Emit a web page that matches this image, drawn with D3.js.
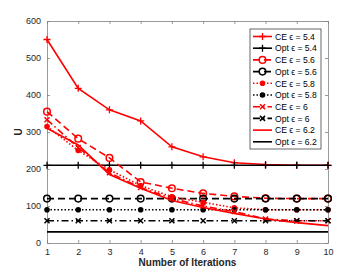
<!DOCTYPE html>
<html>
<head>
<meta charset="utf-8">
<script src="https://cdn.jsdelivr.net/npm/d3@7"></script>
<style>
  body { margin: 0; background: #fff; }
  svg { display: block; font-family: "Liberation Sans", Arial, sans-serif; }
</style>
</head>
<body>
<div id="chart"></div>
<script>
const iterations = [1, 2, 3, 4, 5, 6, 7, 8, 9, 10];
const epsilons = [5.4, 5.6, 5.8, 6, 6.2];
const ce54 = [550, 418, 360, 330, 260, 233, 217, 212, 210, 210];
const ce56 = [355, 282, 230, 165, 148, 134, 126, 121, 120, 120];
const ce58 = [315, 250, 198, 155, 125, 110, 95, 90, 90, 90];
const ce6  = [333, 258, 190, 150, 120, 100, 85, 65, 60, 60];
const ce62 = [310, 265, 185, 148, 115, 96, 80, 65, 55, 47];
const opt = [210, 120, 90, 60, 30];
const yTicks = [0, 100, 200, 300, 400, 500, 600];

const W = 363, H = 273;
const margin = { top: 21, right: 35, bottom: 30, left: 47 };
const width = 328 - margin.left;
const height = 243 - margin.top;

const svg = d3.select("#chart").append("svg")
    .attr("width", W)
    .attr("height", H);

const g = svg.append("g")
    .attr("transform", `translate(${margin.left},${margin.top})`);

const x = d3.scaleLinear().domain([1, 10]).range([0, width]);
const y = d3.scaleLinear().domain([0, 600]).range([height, 0]);

const axisColor = "#262626";

// axes (Matlab style: ticks inside, box on)
const xAxis = g.append("g").attr("transform", `translate(0,${height})`)
    .call(d3.axisBottom(x).tickValues(iterations).tickSizeInner(-3).tickSizeOuter(0).tickPadding(6));
const xTop = g.append("g")
    .call(d3.axisTop(x).tickValues(iterations).tickSizeInner(-3).tickSizeOuter(0).tickFormat(""));
const yAxis = g.append("g")
    .call(d3.axisLeft(y).tickValues(yTicks).tickSizeInner(-3).tickSizeOuter(0).tickPadding(6));
const yRight = g.append("g").attr("transform", `translate(${width},0)`)
    .call(d3.axisRight(y).tickValues(yTicks).tickSizeInner(-3).tickSizeOuter(0).tickFormat(""));

[xAxis, xTop, yAxis, yRight].forEach(a => {
    a.selectAll("path, line").attr("stroke", "#808080").attr("stroke-width", 0.8);
    a.selectAll("text").attr("fill", axisColor).style("font-size", "9px");
});

svg.append("text")
    .attr("x", margin.left + width / 2)
    .attr("y", 266)
    .attr("text-anchor", "middle")
    .style("font-size", "10px")
    .style("font-weight", "bold")
    .attr("fill", axisColor)
    .text("Number of Iterations");

svg.append("text")
    .attr("transform", `translate(22,${margin.top + height / 2}) rotate(-90)`)
    .attr("text-anchor", "middle")
    .style("font-size", "10px")
    .style("font-weight", "bold")
    .attr("fill", axisColor)
    .text("U");

// series definitions
const styles = {
    5.4: { dash: null, marker: "plus" },
    5.6: { dash: "7,4", marker: "circle" },
    5.8: { dash: "1.5,2", marker: "dot" },
    6: { dash: "7,3,1.5,3", marker: "x" },
    6.2: { dash: null, marker: null }
};
const ceValues = [ce54, ce56, ce58, ce6, ce62];

const series = [];
epsilons.forEach((e, i) => {
    series.push({ name: `CE ϵ = ${e}`, color: "#ff0000", eps: e, values: ceValues[i] });
    series.push({ name: `Opt ϵ = ${e}`, color: "#000000", eps: e, values: iterations.map(() => opt[i]) });
});

const line = d3.line()
    .x((d, i) => x(iterations[i]))
    .y(d => y(d));

function drawMarker(sel, type, color, cx, cy) {
    if (type === "plus") {
        sel.append("path")
            .attr("d", `M${cx - 3.5},${cy}H${cx + 3.5}M${cx},${cy - 3.5}V${cy + 3.5}`)
            .attr("stroke", color).attr("stroke-width", 1.3).attr("fill", "none");
    } else if (type === "circle") {
        sel.append("circle").attr("cx", cx).attr("cy", cy).attr("r", 3.3)
            .attr("fill", "none").attr("stroke", color).attr("stroke-width", 1.5);
    } else if (type === "dot") {
        sel.append("circle").attr("cx", cx).attr("cy", cy).attr("r", 2.8)
            .attr("fill", color);
    } else if (type === "x") {
        sel.append("path")
            .attr("d", `M${cx - 2.5},${cy - 2.5}L${cx + 2.5},${cy + 2.5}M${cx - 2.5},${cy + 2.5}L${cx + 2.5},${cy - 2.5}`)
            .attr("stroke", color).attr("stroke-width", 1.5).attr("fill", "none");
    }
}

const plot = g.append("g");
// draw black (opt) first, then red over? Keep legend order: draw in order
series.forEach(s => {
    const st = styles[s.eps];
    plot.append("path")
        .datum(s.values)
        .attr("d", line)
        .attr("fill", "none")
        .attr("stroke", s.color)
        .attr("stroke-width", 1.6)
        .attr("stroke-dasharray", st.dash);
    if (st.marker) {
        s.values.forEach((v, i) => drawMarker(plot, st.marker, s.color, x(iterations[i]), y(v)));
    }
});

// legend
const lg = svg.append("g").attr("transform", "translate(250,29)");
const rowH = 11.7;
lg.append("rect")
    .attr("width", 71).attr("height", series.length * rowH + 3)
    .attr("fill", "#fff").attr("stroke", "#262626").attr("stroke-width", 0.7);
series.forEach((s, i) => {
    const st = styles[s.eps];
    const cy = 7.5 + i * rowH;
    lg.append("line")
        .attr("x1", 3).attr("x2", 22).attr("y1", cy).attr("y2", cy)
        .attr("stroke", s.color).attr("stroke-width", 1.6)
        .attr("stroke-dasharray", st.dash);
    if (st.marker) drawMarker(lg, st.marker, s.color, 12.5, cy);
    lg.append("text")
        .attr("x", 25).attr("y", cy + 3.2)
        .style("font-size", "8.6px")
        .attr("fill", "#000")
        .text(s.name);
});
</script>
</body>
</html>
